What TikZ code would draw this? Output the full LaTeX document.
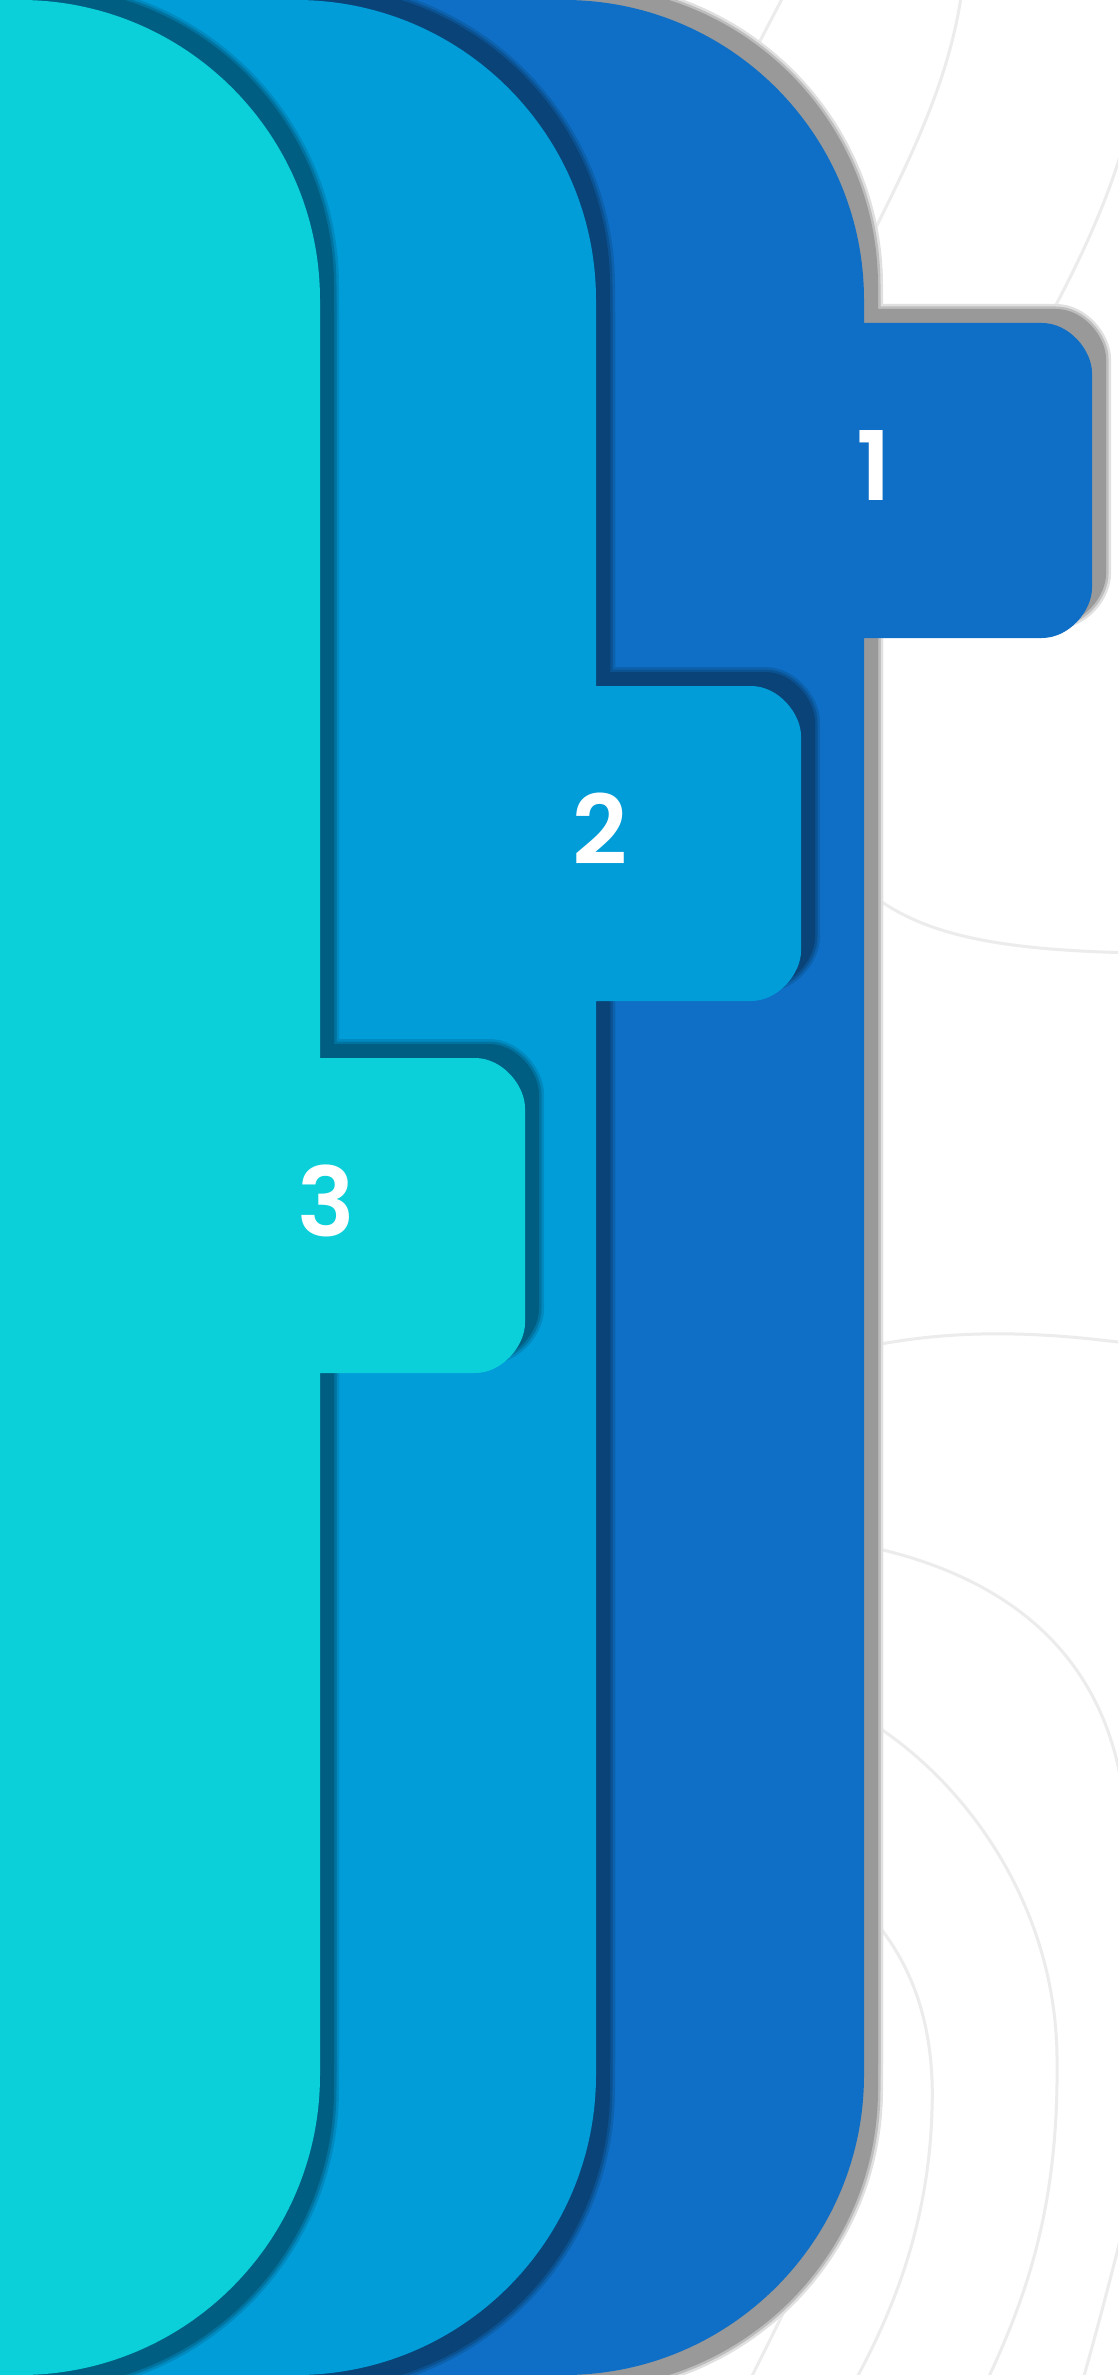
\documentclass[tikz,border=0pt]{standalone}
\usepackage{fontspec}
\newfontfamily\numfont{Poppins SemiBold}
\definecolor{cDark}{HTML}{0F6FC6}
\definecolor{cMid}{HTML}{009DD9}
\definecolor{cCyan}{HTML}{0BD0D9}
\definecolor{cArc}{HTML}{ECECEC}
\colorlet{shW}{white!60!black}
\colorlet{shD}{cDark!60!black}
\colorlet{shM}{cMid!60!black}
% panel body: right edge #1, right corners radius 300
\newcommand\panelpath[1]{(-100,0) -- ({#1-300},0) .. controls ({#1-134.3},0) and (#1,134.3) .. (#1,300) -- (#1,2075) .. controls (#1,2240.7) and ({#1-134.3},2375) .. ({#1-300},2375) -- (-100,2375) -- cycle}
% tab: panel edge #1, width #2, top #3, height 315, corner radius 50
\newcommand\tabpath[3]{({#1-100},#3) -- ({#1+#2-50},#3) .. controls ({#1+#2-22.4},#3) and ({#1+#2},{#3+27.6}) .. ({#1+#2},{#3+50}) -- ({#1+#2},{#3+265}) .. controls ({#1+#2},{#3+287.4}) and ({#1+#2-22.4},{#3+315}) .. ({#1+#2-50},{#3+315}) -- ({#1-100},{#3+315}) -- cycle}
% soft drop shadow: #1 edge, #2 tab width, #3 tab top, #4 core colour, #5 background colour
\newcommand\dropshadow[5]{%
  \foreach \lw/\mix in {5pt/30,2.5pt/65}{%
    \draw[line width=\lw, color=#4!\mix!#5, shift={(14,-14)}] \panelpath{#1} \tabpath{#1}{#2}{#3};
    \draw[line width=\lw, color=#4!\mix!#5, shift={(14,14)}] \panelpath{#1};
  }%
  \fill[#4, shift={(14,-14)}] \panelpath{#1} \tabpath{#1}{#2}{#3};
  \fill[#4, shift={(14,14)}] \panelpath{#1};
}
\tikzset{
  lbl/.style={text=white, font=\numfont\fontsize{48}{48}\selectfont, inner sep=0pt},
  bgarc/.style={draw=cArc, line width=1.5pt}
}
\begin{document}
\begin{tikzpicture}[x=0.5pt, y=-0.5pt]
\useasboundingbox (0,0) rectangle (1118,2375);
\clip (0,0) rectangle (1118,2375);
\fill[white] (0,0) rectangle (1118,2375);
% faint background arcs
\draw[bgarc] (735,90) .. controls (755,50) and (770,22) .. (784,-5);
\draw[bgarc] (862,255) .. controls (910,160) and (950,80) .. (962,-10);
\draw[bgarc] (1040,335) .. controls (1075,270) and (1105,210) .. (1125,140);
\draw[bgarc] (845,872) .. controls (900,925) and (960,950) .. (1140,953);
\draw[bgarc] (850,1350) .. controls (920,1335) and (1000,1325) .. (1140,1345);
\draw[bgarc] (850,1543) .. controls (1000,1570) and (1110,1650) .. (1125,1810);
\draw[bgarc] (850,1710) .. controls (960,1770) and (1055,1900) .. (1057,2056)
                        .. controls (1059,2200) and (1030,2290) .. (985,2385);
\draw[bgarc] (860,1905) .. controls (915,1960) and (935,2030) .. (932,2110)
                        .. controls (929,2220) and (895,2310) .. (850,2390);
\draw[bgarc] (840,2190) .. controls (810,2260) and (780,2320) .. (745,2390);
\draw[bgarc] (1135,2180) .. controls (1118,2250) and (1100,2320) .. (1080,2390);
% shadow of the back panel
\dropshadow{864}{228}{323}{shW}{white}
% back panel
\fill[cDark] \panelpath{864} \tabpath{864}{228}{323};
% middle panel
\dropshadow{596}{205}{686}{shD}{cDark}
\fill[cMid] \panelpath{596} \tabpath{596}{205}{686};
% front panel
\dropshadow{320}{205}{1058}{shM}{cMid}
\fill[cCyan] \panelpath{320} \tabpath{320}{205}{1058};
% labels
\node[lbl] (n1) at (874,466) {1};
\node[lbl] (n2) at (600,829) {2};
\node[lbl] (n3) at (326,1201) {3};
\end{tikzpicture}
\end{document}
